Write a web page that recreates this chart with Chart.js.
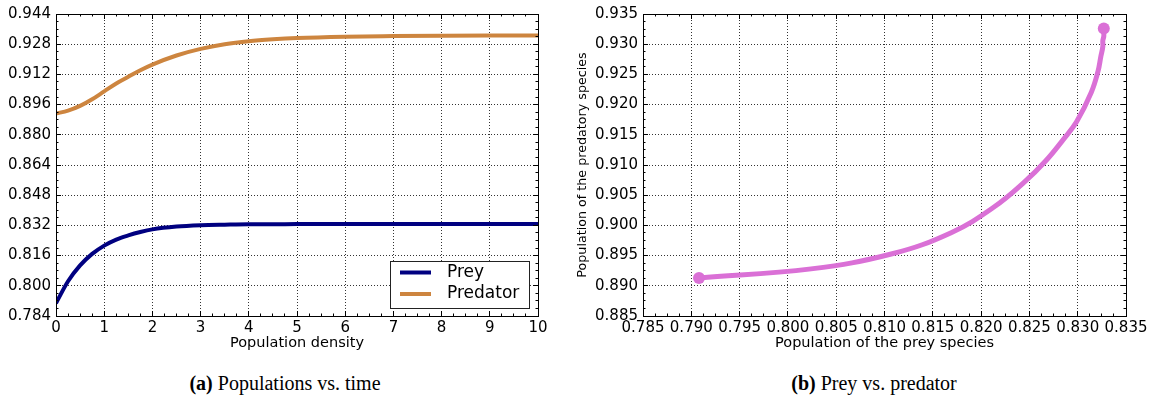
<!DOCTYPE html>
<html>
<head>
<meta charset="utf-8">
<script src="https://cdn.jsdelivr.net/npm/chart.js@4.4.1/dist/chart.umd.min.js"></script>
<style>
  body { margin: 0; background: #fff; }
  #page { position: relative; width: 1151px; height: 396px; overflow: hidden; }
  .wrap { position: absolute; top: 0; }
  .caption {
    position: absolute; top: 371px; width: 300px; text-align: center;
    font-family: 'Liberation Serif', serif; font-size: 20px; line-height: 24px; color: #000;
  }
</style>
</head>
<body>
<div id="page">
  <div class="wrap" style="left:0"><canvas id="chart-a" width="575" height="360"></canvas></div>
  <div class="wrap" style="left:575px"><canvas id="chart-b" width="576" height="360"></canvas></div>
  <div class="caption" style="left:135px"><b>(a)</b> Populations vs. time</div>
  <div class="caption" style="left:724px"><b>(b)</b> Prey vs. predator</div>
</div>
<script>
// data
const timeSteps = [0, 0.25, 0.5, 0.75, 1, 1.25, 1.5, 1.75, 2, 2.5, 3, 3.5, 4, 4.5, 5, 6, 7, 8, 9, 10];
const preyValues = [0.7908, 0.8024, 0.8108, 0.8169, 0.8213, 0.8245, 0.8267, 0.8285, 0.8299, 0.8314,
                    0.8321, 0.8324, 0.8326, 0.8326, 0.8327, 0.8327, 0.8327, 0.8327, 0.8327, 0.8327];
const predatorValues = [0.8913, 0.8928, 0.8953, 0.8988, 0.9030, 0.9072, 0.9107, 0.9142, 0.9172, 0.9220,
                        0.9255, 0.9280, 0.9296, 0.9306, 0.9313, 0.9320, 0.9323, 0.9325, 0.9326, 0.9326];
const seriesLabels = ['Prey', 'Predator'];

const xTicksA = [0, 1, 2, 3, 4, 5, 6, 7, 8, 9, 10];
const yTicksA = [0.784, 0.800, 0.816, 0.832, 0.848, 0.864, 0.880, 0.896, 0.912, 0.928, 0.944];
const xTicksB = [0.785, 0.790, 0.795, 0.800, 0.805, 0.810, 0.815, 0.820, 0.825, 0.830, 0.835];
const yTicksB = [0.885, 0.890, 0.895, 0.900, 0.905, 0.910, 0.915, 0.920, 0.925, 0.930, 0.935];

const COLORS = { prey: '#000080', predator: '#CD853F', phase: '#DA70D6' };
const FONT = 'DejaVu Sans';

Chart.defaults.font.family = FONT;
Chart.defaults.color = '#000';

// dotted grid, hidden on the frame edges
const gridStyle = {
    color: c => (c.index === 0 || c.index === c.scale.ticks.length - 1) ? 'rgba(0,0,0,0)' : 'rgba(0,0,0,0.8)',
    lineWidth: 1,
    drawTicks: false
};
const borderStyle = { display: false, dash: [1, 2] };

function align(p) {
    return Math.round(p - 0.5) + 0.5;
}

function minorValues(ticks) {
    const out = [];
    for (let i = 0; i < ticks.length - 1; i++) {
        const step = (ticks[i + 1].value - ticks[i].value) / 4;
        for (let k = 1; k < 4; k++) out.push(ticks[i].value + k * step);
    }
    return out;
}

// frame + inward ticks on all four sides (matplotlib classic look)
const frameTicks = {
    id: 'frameTicks',
    afterDatasetsDraw(chart) {
        const { ctx, chartArea: a, scales: { x, y } } = chart;
        ctx.save();
        ctx.strokeStyle = '#000';
        ctx.lineWidth = 1;
        const tickX = (vals, len) => vals.forEach(v => {
            const px = align(x.getPixelForValue(v));
            ctx.beginPath();
            ctx.moveTo(px, a.bottom); ctx.lineTo(px, a.bottom - len);
            ctx.moveTo(px, a.top); ctx.lineTo(px, a.top + len);
            ctx.stroke();
        });
        const tickY = (vals, len) => vals.forEach(v => {
            const py = align(y.getPixelForValue(v));
            ctx.beginPath();
            ctx.moveTo(a.left, py); ctx.lineTo(a.left + len, py);
            ctx.moveTo(a.right, py); ctx.lineTo(a.right - len, py);
            ctx.stroke();
        });
        tickX(x.ticks.map(t => t.value), 5);
        tickX(minorValues(x.ticks), 2.5);
        tickY(y.ticks.map(t => t.value), 5);
        tickY(minorValues(y.ticks), 2.5);
        ctx.strokeRect(align(a.left), align(a.top), Math.round(a.right - a.left), Math.round(a.bottom - a.top));
        ctx.restore();
    }
};

// legend box inside the axes, lower right
const insideLegend = {
    id: 'insideLegend',
    afterDraw(chart, args, opts) {
        if (!opts.show) return;
        const { ctx } = chart;
        const box = { x: 390.5, y: 261.5, w: 139, h: 47 };
        ctx.save();
        ctx.fillStyle = '#fff';
        ctx.fillRect(box.x, box.y, box.w, box.h);
        ctx.strokeStyle = '#222';
        ctx.lineWidth = 1;
        ctx.strokeRect(box.x, box.y, box.w, box.h);
        ctx.font = '17px ' + FONT;
        ctx.textBaseline = 'middle';
        chart.data.datasets.forEach((ds, i) => {
            const ly = 272.5 + i * 21.5;
            ctx.strokeStyle = ds.borderColor;
            ctx.lineWidth = 4;
            ctx.beginPath();
            ctx.moveTo(400, ly); ctx.lineTo(431, ly);
            ctx.stroke();
            ctx.fillStyle = '#000';
            ctx.fillText(ds.label, 447, ly);
        });
        ctx.restore();
    }
};

function axis(ticksArr, fixed, opts) {
    return Object.assign({
        type: 'linear',
        min: ticksArr[0],
        max: ticksArr[ticksArr.length - 1],
        afterBuildTicks: s => { s.ticks = ticksArr.map(v => ({ value: v })); },
        grid: gridStyle,
        border: borderStyle
    }, fixed, opts);
}

new Chart(document.getElementById('chart-a'), {
    type: 'line',
    data: {
        datasets: [
            {
                label: seriesLabels[0],
                data: timeSteps.map((t, i) => ({ x: t, y: preyValues[i] })),
                borderColor: COLORS.prey,
                borderWidth: 4,
                pointRadius: 0,
                cubicInterpolationMode: 'monotone',
                clip: 0
            },
            {
                label: seriesLabels[1],
                data: timeSteps.map((t, i) => ({ x: t, y: predatorValues[i] })),
                borderColor: COLORS.predator,
                borderWidth: 4,
                pointRadius: 0,
                cubicInterpolationMode: 'monotone',
                clip: 0
            }
        ]
    },
    options: {
        responsive: false,
        animation: false,
        events: [],
        layout: { padding: { left: 0, top: 14, right: 37, bottom: 0 } },
        plugins: {
            legend: { display: false },
            tooltip: { enabled: false },
            insideLegend: { show: true }
        },
        scales: {
            x: axis(xTicksA, { afterFit: s => { s.height = 44; } }, {
                ticks: { padding: 3, maxRotation: 0, autoSkip: false, font: { size: 15 }, callback: v => String(v) },
                title: { display: true, text: 'Population density', font: { size: 14.5 }, padding: { top: 0, bottom: 8 } }
            }),
            y: axis(yTicksA, { afterFit: s => { s.width = 56; } }, {
                ticks: { padding: 5, autoSkip: false, font: { size: 15 }, callback: v => v.toFixed(3) }
            })
        }
    },
    plugins: [frameTicks, insideLegend]
});

const lastIdx = preyValues.length - 1;

new Chart(document.getElementById('chart-b'), {
    type: 'line',
    data: {
        datasets: [{
            label: 'Prey vs. predator',
            data: preyValues.map((p, i) => ({ x: p, y: predatorValues[i] })),
            borderColor: COLORS.phase,
            backgroundColor: COLORS.phase,
            borderWidth: 5,
            tension: 0.4,
            pointRadius: c => (c.dataIndex === 0 || c.dataIndex === lastIdx) ? 6 : 0,
            pointBorderWidth: 0,
            pointBackgroundColor: COLORS.phase
        }]
    },
    options: {
        responsive: false,
        animation: false,
        events: [],
        layout: { padding: { left: 0, top: 14, right: 25, bottom: 0 } },
        plugins: {
            legend: { display: false },
            tooltip: { enabled: false },
            insideLegend: { show: false }
        },
        scales: {
            x: axis(xTicksB, { afterFit: s => { s.height = 44; } }, {
                ticks: { padding: 3, maxRotation: 0, minRotation: 0, autoSkip: false, font: { size: 15 }, callback: v => v.toFixed(3) },
                title: { display: true, text: 'Population of the prey species', font: { size: 14.5 }, padding: { top: 0, bottom: 8 } }
            }),
            y: axis(yTicksB, { afterFit: s => { s.width = 68; } }, {
                ticks: { padding: 5, autoSkip: false, font: { size: 15 }, callback: v => v.toFixed(3) },
                title: { display: true, text: 'Population of the predatory species', font: { size: 12.7 }, padding: 0 }
            })
        }
    },
    plugins: [frameTicks]
});
</script>
</body>
</html>
